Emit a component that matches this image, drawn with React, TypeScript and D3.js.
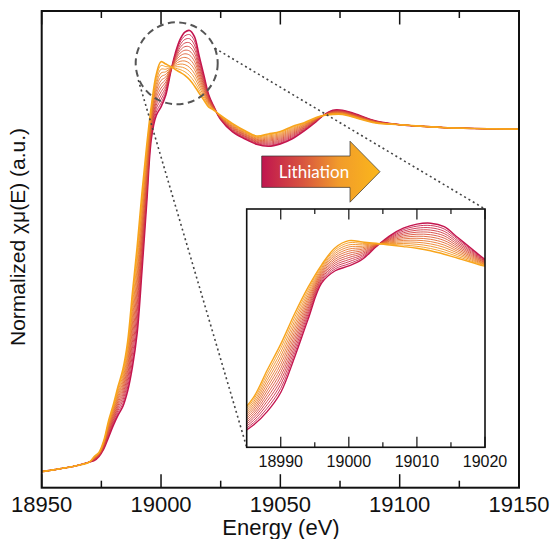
import React from "react";
import * as d3 from "d3";

// Energy grid (eV)
const energies = [
  18950, 18955, 18960, 18965, 18970, 18972, 18974, 18976, 18978, 18980,
  18982, 18984, 18986, 18988, 18990, 18992, 18994, 18996, 18998, 19000,
  19002, 19004, 19006, 19008, 19010, 19012, 19014, 19016, 19018, 19020,
  19022, 19025, 19030, 19035, 19040, 19045, 19050, 19055, 19060, 19065,
  19068, 19072, 19076, 19080, 19090, 19100, 19110, 19120, 19130, 19140, 19150,
];

// one row per energy: normalized mu for the 13 scans, pristine (first) -> lithiated (last)
const muRows = [
  [0.000, 0.000, 0.000, 0.000, 0.000, 0.000, 0.000, 0.000, 0.000, 0.000, 0.000, 0.000, 0.000],
  [0.005, 0.005, 0.005, 0.005, 0.005, 0.005, 0.005, 0.005, 0.005, 0.005, 0.005, 0.005, 0.005],
  [0.011, 0.011, 0.011, 0.011, 0.011, 0.011, 0.011, 0.011, 0.011, 0.011, 0.011, 0.011, 0.011],
  [0.018, 0.018, 0.018, 0.018, 0.018, 0.018, 0.018, 0.018, 0.018, 0.018, 0.018, 0.018, 0.018],
  [0.028, 0.028, 0.028, 0.028, 0.028, 0.028, 0.028, 0.028, 0.028, 0.028, 0.028, 0.028, 0.028],
  [0.032, 0.033, 0.034, 0.035, 0.036, 0.037, 0.038, 0.039, 0.040, 0.041, 0.042, 0.043, 0.044],
  [0.044, 0.045, 0.046, 0.047, 0.048, 0.049, 0.050, 0.051, 0.052, 0.053, 0.054, 0.055, 0.056],
  [0.066, 0.068, 0.070, 0.072, 0.074, 0.076, 0.078, 0.080, 0.082, 0.084, 0.086, 0.088, 0.090],
  [0.100, 0.104, 0.108, 0.112, 0.116, 0.120, 0.124, 0.128, 0.132, 0.136, 0.140, 0.144, 0.148],
  [0.135, 0.140, 0.145, 0.150, 0.155, 0.160, 0.165, 0.170, 0.175, 0.180, 0.185, 0.190, 0.195],
  [0.165, 0.172, 0.179, 0.186, 0.193, 0.200, 0.207, 0.214, 0.221, 0.228, 0.235, 0.242, 0.249],
  [0.190, 0.199, 0.208, 0.217, 0.226, 0.235, 0.244, 0.253, 0.262, 0.271, 0.280, 0.289, 0.298],
  [0.235, 0.247, 0.259, 0.271, 0.283, 0.295, 0.307, 0.319, 0.331, 0.343, 0.355, 0.367, 0.379],
  [0.305, 0.323, 0.341, 0.359, 0.377, 0.395, 0.413, 0.431, 0.449, 0.467, 0.485, 0.503, 0.521],
  [0.405, 0.426, 0.447, 0.468, 0.489, 0.510, 0.531, 0.552, 0.573, 0.594, 0.615, 0.636, 0.657],
  [0.585, 0.604, 0.623, 0.642, 0.661, 0.680, 0.699, 0.718, 0.737, 0.756, 0.775, 0.794, 0.813],
  [0.785, 0.799, 0.813, 0.827, 0.841, 0.855, 0.869, 0.883, 0.897, 0.911, 0.925, 0.939, 0.953],
  [0.975, 0.983, 0.991, 0.999, 1.007, 1.015, 1.023, 1.031, 1.039, 1.047, 1.055, 1.063, 1.071],
  [1.040, 1.050, 1.060, 1.070, 1.080, 1.090, 1.100, 1.110, 1.120, 1.130, 1.140, 1.150, 1.160],
  [1.065, 1.076, 1.087, 1.098, 1.109, 1.120, 1.131, 1.142, 1.153, 1.164, 1.175, 1.186, 1.197],
  [1.100, 1.1075, 1.115, 1.1225, 1.130, 1.1375, 1.145, 1.1525, 1.160, 1.1675, 1.175, 1.1825, 1.190],
  [1.165, 1.1665, 1.168, 1.1695, 1.171, 1.1725, 1.174, 1.1755, 1.177, 1.1785, 1.180, 1.1815, 1.183],
  [1.222, 1.218, 1.214, 1.210, 1.206, 1.202, 1.198, 1.194, 1.190, 1.186, 1.182, 1.178, 1.174],
  [1.262, 1.254, 1.246, 1.238, 1.230, 1.222, 1.214, 1.206, 1.198, 1.190, 1.182, 1.174, 1.166],
  [1.283, 1.2725, 1.262, 1.2515, 1.241, 1.2305, 1.220, 1.2095, 1.199, 1.1885, 1.178, 1.1675, 1.157],
  [1.288, 1.276, 1.264, 1.252, 1.240, 1.228, 1.216, 1.204, 1.192, 1.180, 1.168, 1.156, 1.144],
  [1.270, 1.258, 1.246, 1.234, 1.222, 1.210, 1.198, 1.186, 1.174, 1.162, 1.150, 1.138, 1.126],
  [1.213, 1.204, 1.195, 1.186, 1.177, 1.168, 1.159, 1.150, 1.141, 1.132, 1.123, 1.114, 1.105],
  [1.156, 1.150, 1.144, 1.138, 1.132, 1.126, 1.120, 1.114, 1.108, 1.102, 1.096, 1.090, 1.084],
  [1.100, 1.097, 1.094, 1.091, 1.088, 1.085, 1.082, 1.079, 1.076, 1.073, 1.070, 1.067, 1.064],
  [1.068, 1.067, 1.066, 1.065, 1.064, 1.063, 1.062, 1.061, 1.060, 1.059, 1.058, 1.057, 1.056],
  [1.028, 1.029, 1.030, 1.031, 1.032, 1.033, 1.034, 1.035, 1.036, 1.037, 1.038, 1.039, 1.040],
  [0.992, 0.994, 0.996, 0.998, 1.000, 1.002, 1.004, 1.006, 1.008, 1.010, 1.012, 1.014, 1.016],
  [0.972, 0.974, 0.976, 0.978, 0.980, 0.982, 0.984, 0.986, 0.988, 0.990, 0.992, 0.994, 0.996],
  [0.956, 0.958, 0.960, 0.962, 0.964, 0.966, 0.968, 0.970, 0.972, 0.974, 0.976, 0.978, 0.980],
  [0.950, 0.953, 0.956, 0.959, 0.962, 0.965, 0.968, 0.971, 0.974, 0.977, 0.980, 0.983, 0.986],
  [0.957, 0.960, 0.963, 0.966, 0.969, 0.972, 0.975, 0.978, 0.981, 0.984, 0.987, 0.990, 0.993],
  [0.972, 0.975, 0.978, 0.981, 0.984, 0.987, 0.990, 0.993, 0.996, 0.999, 1.002, 1.005, 1.008],
  [0.995, 0.997, 0.999, 1.001, 1.003, 1.005, 1.007, 1.009, 1.011, 1.013, 1.015, 1.017, 1.019],
  [1.022, 1.023, 1.024, 1.025, 1.026, 1.027, 1.028, 1.029, 1.030, 1.031, 1.032, 1.033, 1.034],
  [1.040, 1.040, 1.040, 1.040, 1.040, 1.040, 1.040, 1.040, 1.040, 1.040, 1.040, 1.040, 1.040],
  [1.055, 1.054, 1.053, 1.052, 1.051, 1.050, 1.049, 1.048, 1.047, 1.046, 1.045, 1.044, 1.043],
  [1.055, 1.054, 1.053, 1.052, 1.051, 1.050, 1.049, 1.048, 1.047, 1.046, 1.045, 1.044, 1.043],
  [1.048, 1.047, 1.046, 1.045, 1.044, 1.043, 1.042, 1.041, 1.040, 1.039, 1.038, 1.037, 1.036],
  [1.024, 1.0235, 1.023, 1.0225, 1.022, 1.0215, 1.021, 1.0205, 1.020, 1.0195, 1.019, 1.0185, 1.018],
  [1.013, 1.013, 1.013, 1.013, 1.013, 1.013, 1.013, 1.013, 1.013, 1.013, 1.013, 1.013, 1.013],
  [1.008, 1.008, 1.008, 1.008, 1.008, 1.008, 1.008, 1.008, 1.008, 1.008, 1.008, 1.008, 1.008],
  [1.004, 1.004, 1.004, 1.004, 1.004, 1.004, 1.004, 1.004, 1.004, 1.004, 1.004, 1.004, 1.004],
  [1.002, 1.002, 1.002, 1.002, 1.002, 1.002, 1.002, 1.002, 1.002, 1.002, 1.002, 1.002, 1.002],
  [1.001, 1.001, 1.001, 1.001, 1.001, 1.001, 1.001, 1.001, 1.001, 1.001, 1.001, 1.001, 1.001],
  [1.000, 1.000, 1.000, 1.000, 1.000, 1.000, 1.000, 1.000, 1.000, 1.000, 1.000, 1.000, 1.000],
];

const mainTicks = [18950, 19000, 19050, 19100, 19150];
const mainMinorTicks = [18975, 19025, 19075, 19125];
const insetTicks = [18990, 19000, 19010, 19020];
const insetMinorTicks = [18995, 19005, 19015];

const FONT = "'Liberation Sans', Arial, sans-serif";

export default function App() {
  const W = 555;
  const H = 539;
  const plot = { left: 41.7, right: 519, top: 11, bottom: 487.7 };
  const inset = { left: 246.7, right: 485, top: 209, bottom: 447.3 };

  const x = d3.scaleLinear().domain([18950, 19150]).range([plot.left, plot.right]);
  const y = d3.scaleLinear().domain([-0.047, 1.345]).range([plot.bottom, plot.top]);
  const xi = d3.scaleLinear().domain([18985, 19020]).range([inset.left, inset.right]);
  const yi = d3.scaleLinear().domain([0.119, 1.362]).range([inset.bottom, inset.top]);

  const nScans = muRows[0].length;
  const scans = d3.range(nScans).map((k) => muRows.map((row) => row[k]));
  const color = d3
    .scaleLinear<string>()
    .domain([0, nScans - 1])
    .range(["#c4154f", "#f8a51c"])
    .interpolate(d3.interpolateRgb);

  const mainLine = d3
    .line<number>()
    .x((_, i) => x(energies[i]))
    .y((d) => y(d))
    .curve(d3.curveCatmullRom.alpha(0.5));
  const insetLine = d3
    .line<number>()
    .x((_, i) => xi(energies[i]))
    .y((d) => yi(d))
    .curve(d3.curveCatmullRom.alpha(0.5));

  const isEnd = (k: number) => k === 0 || k === nScans - 1;

  // zoom circle and the dotted guides to the inset
  const circle = { cx: 176.7, cy: 63.3, r: 41 };

  const arrow = { x0: 261.7, x1: 350, tip: 380, yMid: 171.7, half: 15.7, headHalf: 30.5 };
  const arrowPts = [
    [arrow.x0, arrow.yMid - arrow.half],
    [arrow.x1, arrow.yMid - arrow.half],
    [arrow.x1, arrow.yMid - arrow.headHalf],
    [arrow.tip, arrow.yMid],
    [arrow.x1, arrow.yMid + arrow.headHalf],
    [arrow.x1, arrow.yMid + arrow.half],
    [arrow.x0, arrow.yMid + arrow.half],
  ]
    .map((p) => p.join(","))
    .join(" ");

  return (
    <div style={{ position: "absolute", left: 0, top: 0 }}>
      <svg width={W} height={H} style={{ display: "block", background: "#fff" }}>
        <defs>
          <clipPath id="main-clip">
            <rect x={plot.left} y={plot.top} width={plot.right - plot.left} height={plot.bottom - plot.top} />
          </clipPath>
          <clipPath id="inset-clip">
            <rect x={inset.left} y={inset.top} width={inset.right - inset.left} height={inset.bottom - inset.top} />
          </clipPath>
          <linearGradient id="arrow-grad" x1="0" x2="1" y1="0" y2="0">
            <stop offset="0" stopColor="#c0154f" />
            <stop offset="0.35" stopColor="#d8553f" />
            <stop offset="0.65" stopColor="#f19b2b" />
            <stop offset="1" stopColor="#fbb71b" />
          </linearGradient>
        </defs>

        {/* main spectra */}
        <g clipPath="url(#main-clip)">
          {scans.map((s, k) => (
            <path
              key={k}
              d={mainLine(s) ?? ""}
              fill="none"
              stroke={color(k)}
              strokeWidth={isEnd(k) ? 1.6 : 0.9}
            />
          ))}
        </g>

        {/* main frame + ticks */}
        <rect
          x={plot.left}
          y={plot.top}
          width={plot.right - plot.left}
          height={plot.bottom - plot.top}
          fill="none"
          stroke="#111"
          strokeWidth={2}
        />
        {mainTicks.map((t) => (
          <g key={t}>
            <line x1={x(t)} x2={x(t)} y1={plot.bottom} y2={plot.bottom - 13.5} stroke="#111" strokeWidth={1.5} />
            <line x1={x(t)} x2={x(t)} y1={plot.top} y2={plot.top + 13.5} stroke="#111" strokeWidth={1.5} />
            <text x={x(t)} y={511.7} textAnchor="middle" fontFamily={FONT} fontSize={22} fill="#111">
              {t}
            </text>
          </g>
        ))}
        {mainMinorTicks.map((t) => (
          <g key={t}>
            <line x1={x(t)} x2={x(t)} y1={plot.bottom} y2={plot.bottom - 7} stroke="#111" strokeWidth={1.5} />
            <line x1={x(t)} x2={x(t)} y1={plot.top} y2={plot.top + 7} stroke="#111" strokeWidth={1.5} />
          </g>
        ))}
        <text x={281} y={535} textAnchor="middle" fontFamily={FONT} fontSize={22} fill="#111">
          Energy (eV)
        </text>
        <text
          transform="translate(25, 237) rotate(-90)"
          textAnchor="middle"
          fontFamily={FONT}
          fontSize={21}
          fill="#111"
        >
          Normalized χμ(E) (a.u.)
        </text>

        {/* zoom marker */}
        <circle
          cx={circle.cx}
          cy={circle.cy}
          r={circle.r}
          fill="none"
          stroke="#555"
          strokeWidth={2}
          strokeDasharray="7,4.5"
        />
        <line x1={215} y1={48.3} x2={inset.right} y2={inset.top} stroke="#444" strokeWidth={1.6} strokeDasharray="2,3" />
        <line x1={138.3} y1={80} x2={inset.left} y2={inset.bottom} stroke="#444" strokeWidth={1.6} strokeDasharray="2,3" />

        {/* lithiation arrow */}
        <polygon points={arrowPts} fill="url(#arrow-grad)" stroke="#333" strokeWidth={0.7} />
        <text
          x={314}
          y={178}
          textAnchor="middle"
          fontFamily="Lato, 'Open Sans', sans-serif"
          fontSize={17}
          fill="#fff"
        >
          Lithiation
        </text>

        {/* inset */}
        <rect
          x={inset.left}
          y={inset.top}
          width={inset.right - inset.left}
          height={inset.bottom - inset.top}
          fill="#fff"
        />
        <g clipPath="url(#inset-clip)">
          {scans.map((s, k) => (
            <path
              key={k}
              d={insetLine(s) ?? ""}
              fill="none"
              stroke={color(k)}
              strokeWidth={isEnd(k) ? 1.4 : 0.9}
            />
          ))}
        </g>
        <rect
          x={inset.left}
          y={inset.top}
          width={inset.right - inset.left}
          height={inset.bottom - inset.top}
          fill="none"
          stroke="#111"
          strokeWidth={1.6}
        />
        {insetTicks.map((t) => (
          <g key={t}>
            <line x1={xi(t)} x2={xi(t)} y1={inset.bottom} y2={inset.bottom - 10.5} stroke="#111" strokeWidth={1.2} />
            <line x1={xi(t)} x2={xi(t)} y1={inset.top} y2={inset.top + 10.5} stroke="#111" strokeWidth={1.2} />
            <text x={xi(t)} y={466.7} textAnchor="middle" fontFamily={FONT} fontSize={16} fill="#111">
              {t}
            </text>
          </g>
        ))}
        {insetMinorTicks.map((t) => (
          <g key={t}>
            <line x1={xi(t)} x2={xi(t)} y1={inset.bottom} y2={inset.bottom - 5} stroke="#111" strokeWidth={1.2} />
            <line x1={xi(t)} x2={xi(t)} y1={inset.top} y2={inset.top + 5} stroke="#111" strokeWidth={1.2} />
          </g>
        ))}
      </svg>
    </div>
  );
}
